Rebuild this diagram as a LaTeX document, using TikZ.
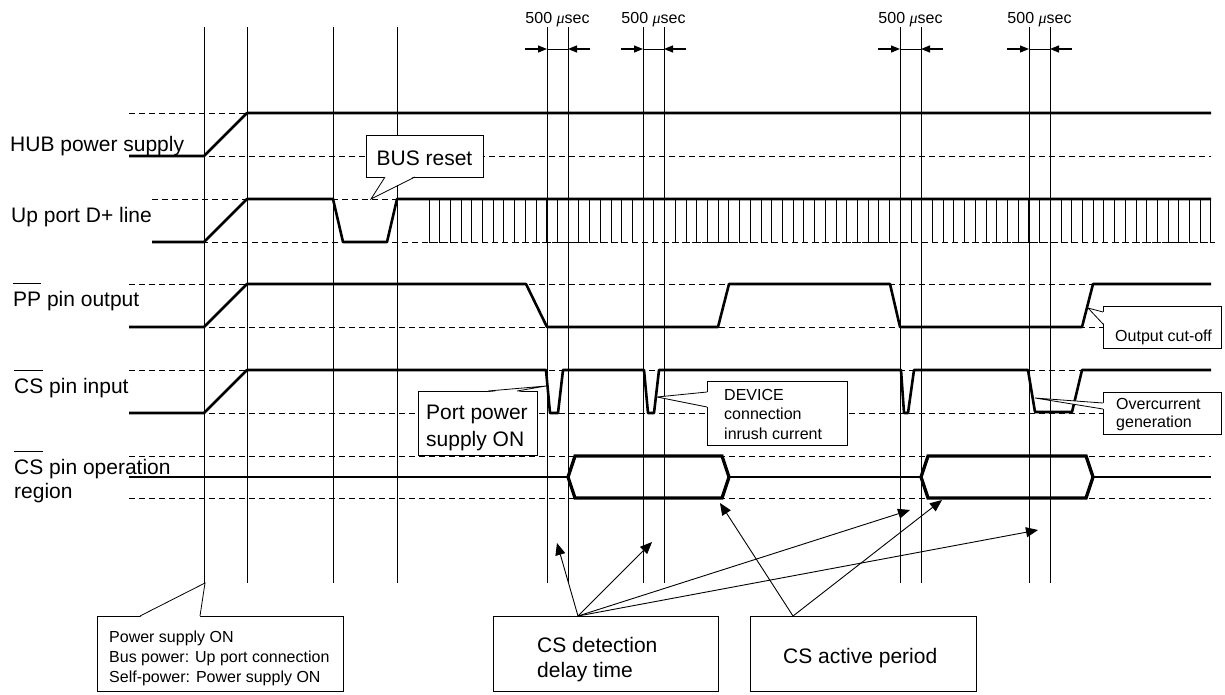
\documentclass[tikz,border=0pt]{standalone}
\usepackage{fontspec}
\setmainfont{Liberation Sans}
\newfontfamily\timesit{Liberation Serif}
\usetikzlibrary{arrows.meta}
\newcommand\barred[1]{\setbox0=\hbox{#1}\rlap{\raisebox{1.06em}{\rule{\wd0}{0.9pt}}}\box0\relax}
\newcommand\usec{500 {\timesit\itshape μ}sec}
\begin{document}
\begin{tikzpicture}[x=1pt,y=-1pt,
  sig/.style={line width=2.6pt, line join=round},
  hexa/.style={line width=3.3pt, line join=miter},
  refl/.style={line width=0.8pt, dash pattern=on 6pt off 4pt},
  grid/.style={line width=0.9pt},
  tick/.style={line width=1pt},
  box/.style={draw, fill=white, line width=0.8pt, inner sep=0pt, anchor=north west},
  ptr/.style={line width=0.8pt, line join=miter},
  lbl/.style={font=\fontsize{21}{25}\selectfont, inner sep=0pt, anchor=base west},
  small/.style={font=\fontsize{16}{19}\selectfont, inner sep=0pt, anchor=base west},
  arr/.style={line width=0.9pt, -{Triangle[length=12pt,width=10pt]}},
  tarr/.style={line width=1.2pt, -{Triangle[length=9pt,width=7pt]}}]
\useasboundingbox (0,0) rectangle (1225,694);

% ---------- dashed reference levels ----------
\foreach \y in {113,156,284,327,370,413,456,498}
  \draw[refl] (129,\y) -- (1211,\y);
\foreach \y in {199,242}
  \draw[refl] (152,\y) -- (1211,\y);

% ---------- vertical timing lines ----------
\foreach \x in {204,247,333,397,547,568,643,664,900,921,1029,1050}
  \draw[grid] (\x,27) -- (\x,583);

% ---------- 500 usec markers ----------
\foreach \a/\b/\n in {547/568/1,643/664/2,900/921/3,1029/1050/4}{
  \coordinate (ml\n) at (\a,49);
  \coordinate (mr\n) at (\b,49);
  \coordinate (sl\n) at (\a-22,49);
  \coordinate (sr\n) at (\b+22,49);
  \draw[grid] (ml\n) -- (mr\n);
  \draw[tarr] (sl\n) -- (ml\n);
  \draw[tarr] (sr\n) -- (mr\n);
  \node[small, anchor=base] (us\n) at ({(\a+\b)/2},23) {\usec};
}

% ---------- D+ line packets ----------
\foreach \i in {0,...,73}{
  \pgfmathsetmacro\xx{429+10.712*\i}
  \draw[tick] (\xx,199) -- (\xx,242) -- (\xx+4,242);
}

% ---------- signals ----------
\draw[sig] (129,156) -- (204,156) -- (247,113) -- (1211,113);
\draw[sig] (152,242) -- (204,242) -- (247,199) -- (333,199) -- (343,242)
  -- (387,242) -- (397,199) -- (1211,199);
\draw[sig] (129,327) -- (204,327) -- (247,284) -- (526,284) -- (547,327)
  -- (718,327) -- (729,284) -- (890,284) -- (900,327) -- (1082,327)
  -- (1093,284) -- (1211,284);
\draw[sig] (129,413) -- (204,413) -- (247,370) -- (546,370) -- (550,413)
  -- (558,413) -- (563,370) -- (644,370) -- (648,413) -- (654,413)
  -- (659,370) -- (901,370) -- (904,413) -- (908,413) -- (914,370)
  -- (1028,370) -- (1035,412) -- (1072,412) -- (1082,370) -- (1211,370);
\draw[sig] (129,477) -- (568,477);
\draw[sig] (729,477) -- (921,477);
\draw[sig] (1093,477) -- (1211,477);
\draw[hexa] (568,477) -- (575,456) -- (722,456) -- (729,477) -- (722,498)
  -- (575,498) -- cycle;
\draw[hexa] (921,477) -- (928,456) -- (1086,456) -- (1093,477) -- (1086,498)
  -- (928,498) -- cycle;

% ---------- signal names ----------
\node[lbl] (nhub) at (10,151) {HUB power supply};
\node[lbl] (ndp) at (11,222) {Up port D+ line};
\node[lbl] (npp) at (13,306) {\barred{PP} pin output};
\node[lbl] (ncs) at (14,393) {\barred{CS} pin input};
\node[lbl] (nop) at (14,474) {\barred{CS} pin operation};
\node[lbl] (nreg) at (14,498) {region};

% ---------- callout boxes ----------
\node[box, minimum width=117pt, minimum height=42pt] (busbox) at (366,135) {};
\node[box, minimum width=119pt, minimum height=64pt] (portbox) at (418,391) {};
\node[box, minimum width=140pt, minimum height=64pt] (devbox) at (707,381) {};
\node[box, minimum width=118pt, minimum height=42pt] (cutbox) at (1103,306) {};
\node[box, minimum width=118pt, minimum height=42pt] (ovbox) at (1103,392) {};
\node[box, minimum width=246pt, minimum height=75pt] (pwrbox) at (97,616) {};
\node[box, minimum width=225pt, minimum height=75pt] (detbox) at (493,616) {};
\node[box, minimum width=226pt, minimum height=75pt] (actbox) at (750,616) {};

% ---------- callout pointers ----------
\coordinate (busT) at (371,199);
\fill[white] (385,176) -- (busT) -- (415,176) -- cycle;
\draw[ptr] (385,177) -- (busT) -- (415,177);
\coordinate (portT) at (546,386);
\fill[white] (488,392) -- (portT) -- (517,392) -- cycle;
\draw[ptr] (488,391) -- (portT) -- (517,391);
\coordinate (devT) at (657,397);
\fill[white] (708,392) -- (devT) -- (708,407) -- cycle;
\draw[ptr] (707,392) -- (devT) -- (707,407);
\coordinate (cutT) at (1088,308);
\fill[white] (1104,312) -- (cutT) -- (1104,324) -- cycle;
\draw[ptr] (1103,312) -- (cutT) -- (1103,324);
\coordinate (ovT) at (1035,398);
\fill[white] (1104,403) -- (ovT) -- (1104,409) -- cycle;
\draw[ptr] (1103,403) -- (ovT) -- (1103,409);
\coordinate (pwrT) at (205,583);
\fill[white] (140,617) -- (pwrT) -- (200,617) -- cycle;
\draw[ptr] (140,616) -- (pwrT) -- (200,616);

% ---------- callout texts ----------
\node[lbl, anchor=base] (tbus) at (424.5,165) {BUS reset};
\node[lbl] (tport1) at (426,419) {Port power};
\node[lbl] (tport2) at (426,446) {supply ON};
\node[small] (tdev1) at (724,400) {DEVICE};
\node[small] (tdev2) at (724,419) {connection};
\node[small] (tdev3) at (724,439) {inrush current};
\node[small] (tcut) at (1115,341) {Output cut-off};
\node[small] (tov1) at (1116,409) {Overcurrent};
\node[small] (tov2) at (1116,427) {generation};
\node[small] (tpwr1) at (109,642) {Power supply ON};
\node[small] (tpwr2) at (109,662) {Bus power: Up port connection};
\node[small] (tpwr3) at (109,682) {Self-power: Power supply ON};
\node[lbl] (tdet1) at (537,652) {CS detection};
\node[lbl] (tdet2) at (537,677) {delay time};
\node[lbl] (tact) at (783,663) {CS active period};

% ---------- explanation arrows ----------
\coordinate (detS) at (578,616);
\coordinate (d1) at (557,543);
\coordinate (d2) at (652,542);
\coordinate (d3) at (910,510);
\coordinate (d4) at (1038,530);
\foreach \t in {d1,d2,d3,d4} \draw[arr] (detS) -- (\t);
\coordinate (actS) at (793,616);
\coordinate (a1) at (720,503);
\coordinate (a2) at (942,500);
\foreach \t in {a1,a2} \draw[arr] (actS) -- (\t);
\end{tikzpicture}
\end{document}
